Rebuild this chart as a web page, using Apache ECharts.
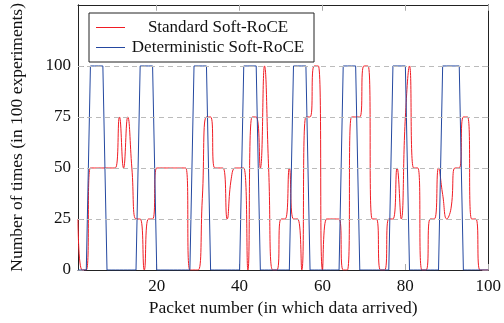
<!DOCTYPE html>
<html>
<head>
<meta charset="utf-8">
<script src="https://cdn.jsdelivr.net/npm/echarts@6/dist/echarts.min.js"></script>
<style>
html, body { margin: 0; padding: 0; background: #fff; }
#chart { width: 504px; height: 323px; }
</style>
</head>
<body>
<div id="chart"></div>
<script>
// packet numbers 1..100
const packets = Array.from({ length: 100 }, (_, i) => i + 1);

const standard = [
    25, 0, 0, 50, 50, 50, 50, 50, 50, 50,
    75, 50, 75, 50, 25, 25, 0, 25, 25, 50,
    50, 50, 50, 50, 50, 50, 50, 0, 0, 0,
    35, 75, 75, 50, 50, 50, 25, 45, 50, 50,
    50, 0, 75, 75, 50, 100, 50, 0, 0, 25,
    25, 50, 25, 25, 0, 75, 75, 100, 100, 0,
    25, 25, 25, 25, 0, 0, 75, 75, 75, 100,
    100, 25, 25, 0, 0, 25, 25, 50, 25, 75,
    100, 50, 50, 0, 0, 25, 25, 50, 37, 25,
    30, 50, 50, 75, 75, 25, 25, 0, 0, 0
];

const deterministic = [
    0, 0, 0, 100, 100, 100, 100, 0, 0, 0,
    0, 0, 0, 0, 0, 100, 100, 100, 100, 0,
    0, 0, 0, 0, 0, 0, 0, 0, 100, 100,
    100, 100, 0, 0, 0, 0, 0, 0, 0, 0,
    100, 100, 100, 100, 0, 0, 0, 0, 0, 0,
    0, 0, 100, 100, 100, 100, 0, 0, 0, 0,
    0, 0, 0, 0, 100, 100, 100, 100, 0, 0,
    0, 0, 0, 0, 0, 0, 100, 100, 100, 100,
    0, 0, 0, 0, 0, 0, 0, 0, 100, 100,
    100, 100, 100, 0, 0, 0, 0, 0, 0, 0
];

const xTicks = [20, 40, 60, 80, 100];
const yTicks = [0, 25, 50, 75, 100];
const gridLevels = [25, 50, 75, 100];

const font = 'Liberation Serif';
const fs = 17;
const chart = echarts.init(document.getElementById('chart'));

const xBase = {
    type: 'value', min: 1, max: 100,
    axisLine: { show: true, onZero: false, lineStyle: { color: '#222', width: 1 } },
    axisTick: { show: true, inside: true, length: 6, customValues: xTicks, lineStyle: { color: '#aaa' } },
    splitLine: { show: false }
};
const yBase = {
    type: 'value', min: 0, max: 130,
    axisLine: { show: true, onZero: false, lineStyle: { color: '#222', width: 1 } },
    axisTick: { show: true, inside: true, length: 6, customValues: yTicks, lineStyle: { color: '#aaa' } },
    splitLine: { show: false }
};

const option = {
    animation: false,
    backgroundColor: '#fff',
    textStyle: { fontFamily: font },
    grid: { left: 77, right: 12, top: 3, bottom: 53 },
    legend: {
        left: 89, top: 13,
        orient: 'vertical',
        backgroundColor: '#fff',
        borderColor: '#222', borderWidth: 1, borderRadius: 0,
        padding: [6, 8, 6, 7],
        itemGap: 3,
        icon: 'rect',
        itemWidth: 29, itemHeight: 1,
        data: ['Standard Soft-RoCE', 'Deterministic Soft-RoCE'],
        formatter: name => '{c|' + name + '}',
        textStyle: {
            fontFamily: font, fontSize: fs, color: '#111',
            rich: { c: { width: 176, align: 'center', fontFamily: font, fontSize: fs, lineHeight: 20 } }
        }
    },
    xAxis: [
        Object.assign({}, xBase, {
            position: 'bottom',
            name: 'Packet number (in which data arrived)',
            nameLocation: 'middle', nameGap: 29,
            nameTextStyle: { fontFamily: font, fontSize: 17.5, color: '#111' },
            axisLabel: { customValues: xTicks, margin: 8, fontFamily: font, fontSize: fs, color: '#111' }
        }),
        Object.assign({}, xBase, { position: 'top', axisLabel: { show: false } })
    ],
    yAxis: [
        Object.assign({}, yBase, {
            position: 'left',
            name: 'Number of times (in 100 experiments)',
            nameLocation: 'middle', nameGap: 52,
            nameTextStyle: { fontFamily: font, fontSize: 17.5, color: '#111' },
            axisLabel: { customValues: yTicks, margin: 7, fontFamily: font, fontSize: fs, color: '#111' }
        }),
        Object.assign({}, yBase, { position: 'right', axisLabel: { show: false } })
    ],
    series: [
        {
            type: 'line', data: [], z: 1, silent: true,
            markLine: {
                silent: true, symbol: 'none', animation: false,
                label: { show: false },
                lineStyle: { type: [5, 4], color: '#bbb', width: 1 },
                data: gridLevels.map(v => ({ yAxis: v }))
            }
        },
        {
            name: 'Standard Soft-RoCE',
            type: 'line', z: 3,
            data: packets.map((p, i) => [p, standard[i]]),
            smooth: 0.5,
            showSymbol: false, symbol: 'none',
            itemStyle: { color: '#f01c24' },
            lineStyle: { color: '#f01c24', width: 1 }
        },
        {
            name: 'Deterministic Soft-RoCE',
            type: 'line', z: 4,
            data: packets.map((p, i) => [p, deterministic[i]]),
            showSymbol: false, symbol: 'none',
            itemStyle: { color: '#2448a0' },
            lineStyle: { color: '#2448a0', width: 1 }
        }
    ]
};

chart.setOption(option);
window.addEventListener('resize', () => chart.resize());
</script>
</body>
</html>
